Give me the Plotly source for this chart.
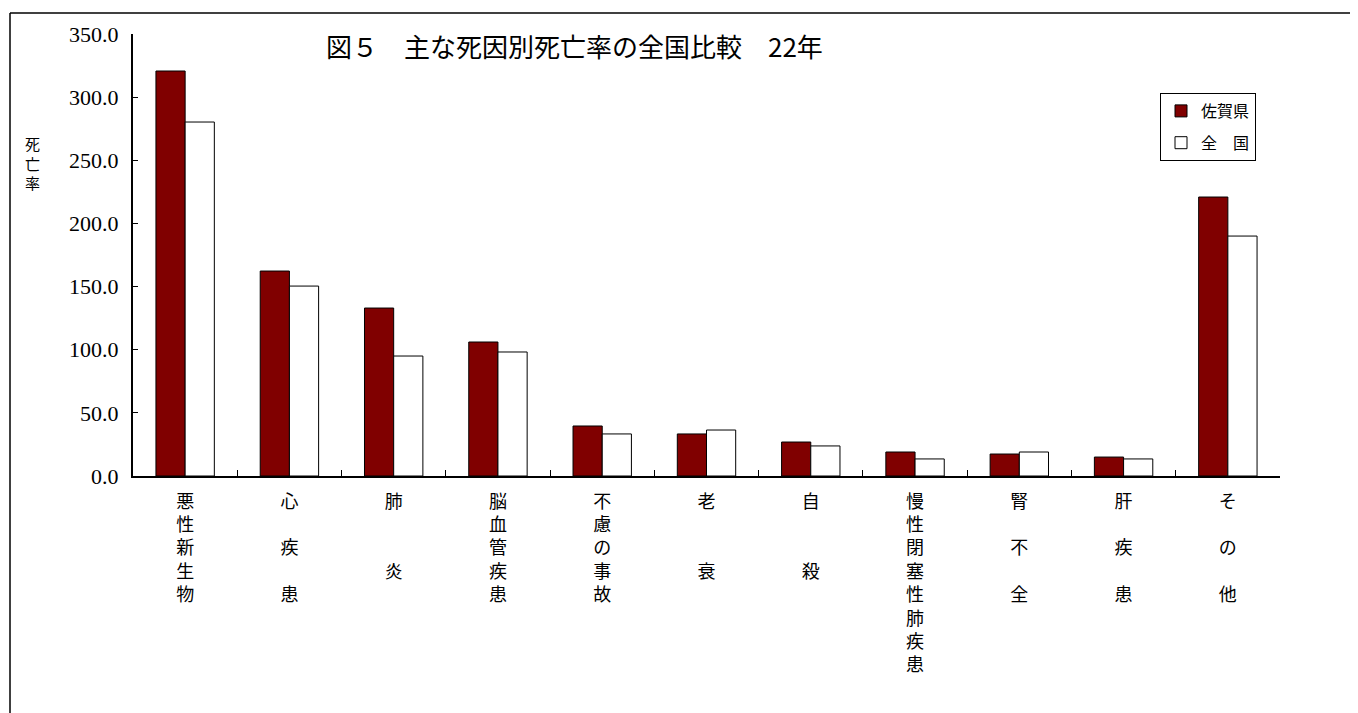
import plotly.graph_objects as go

categories = ["悪性新生物", "心疾患", "肺炎", "脳血管疾患", "不慮の事故", "老衰",
              "自殺", "慢性閉塞性肺疾患", "腎不全", "肝疾患", "その他"]
tick_labels = [
    "悪<br>性<br>新<br>生<br>物",
    "心<br> <br>疾<br> <br>患",
    "肺<br> <br> <br>炎",
    "脳<br>血<br>管<br>疾<br>患",
    "不<br>慮<br>の<br>事<br>故",
    "老<br> <br> <br>衰",
    "自<br> <br> <br>殺",
    "慢<br>性<br>閉<br>塞<br>性<br>肺<br>疾<br>患",
    "腎<br> <br>不<br> <br>全",
    "肝<br> <br>疾<br> <br>患",
    "そ<br> <br>の<br> <br>他",
]
saga = [320.7, 162.3, 133.0, 106.1, 39.6, 33.3, 26.9, 19.0, 17.4, 15.0, 220.9]
national = [280.3, 150.4, 95.0, 98.2, 33.3, 36.4, 23.8, 13.5, 19.0, 13.5, 190.0]
y_ticks = [0, 50, 100, 150, 200, 250, 300, 350]

OFF = 8  # browser default body margin
W, H = 1358 - OFF, 713 - OFF
L, R, T, B = 133 - OFF, 78, 34 - OFF, 237
pw, ph = W - L - R, H - T - B

def px(x):
    return (x - OFF - L) / pw

def py(y):
    return (H - B - (y - OFF)) / ph

fig = go.Figure()
fig.add_trace(go.Bar(x=categories, y=saga, name="佐賀県", legendgroup="a",
                     marker=dict(color="#800000", line=dict(color="black", width=1))))
fig.add_trace(go.Bar(x=categories, y=national, name="全　国", legendgroup="b",
                     marker=dict(color="white", line=dict(color="black", width=1))))

fig.update_layout(
    width=W, height=H,
    margin=dict(l=L, r=R, t=T, b=B, autoexpand=False),
    paper_bgcolor="white", plot_bgcolor="white",
    barmode="group", bargap=0.44, bargroupgap=0,
    font=dict(family="Noto Sans CJK JP", color="black"),
    legend=dict(x=px(1160), y=py(93), xanchor="left", yanchor="top",
                bordercolor="black", borderwidth=1, bgcolor="white",
                font=dict(size=16, family="Noto Sans CJK JP"),
                tracegroupgap=8, itemwidth=30),
    xaxis=dict(type="category", tickmode="array", tickvals=categories, ticktext=tick_labels,
               showline=True, linecolor="black", linewidth=2,
               ticks="inside", ticklen=6, tickcolor="black", tickwidth=1,
               tickson="boundaries", tickangle=0, ticklabelstandoff=8,
               tickfont=dict(size=18, family="Noto Sans CJK JP"),
               showgrid=False, zeroline=False),
    yaxis=dict(range=[0, 350], tickvals=y_ticks, tickformat=".1f",
               showline=True, linecolor="black", linewidth=2,
               ticks="inside", ticklen=5, tickcolor="black", tickwidth=1,
               ticklabelstandoff=8,
               tickfont=dict(size=22, family="Liberation Serif"),
               showgrid=False, zeroline=False),
    annotations=[
        dict(text="図５　主な死因別死亡率の全国比較　22年", xref="paper", yref="paper",
             x=px(574), y=py(45), xanchor="center", yanchor="middle", showarrow=False,
             font=dict(size=26, family="Noto Sans CJK JP", color="black")),
        dict(text="死<br>亡<br>率", xref="paper", yref="paper",
             x=px(32), y=py(163), xanchor="center", yanchor="middle", showarrow=False,
             font=dict(size=15, family="Noto Sans CJK JP", color="black")),
    ],
    shapes=[
        dict(type="line", xref="paper", yref="paper", x0=px(10), y0=py(13), x1=px(1400), y1=py(13),
             line=dict(color="black", width=1.5)),
        dict(type="line", xref="paper", yref="paper", x0=px(10), y0=py(13), x1=px(10), y1=py(760),
             line=dict(color="black", width=1.5)),
    ],
)

fig.write_html("out.html")
